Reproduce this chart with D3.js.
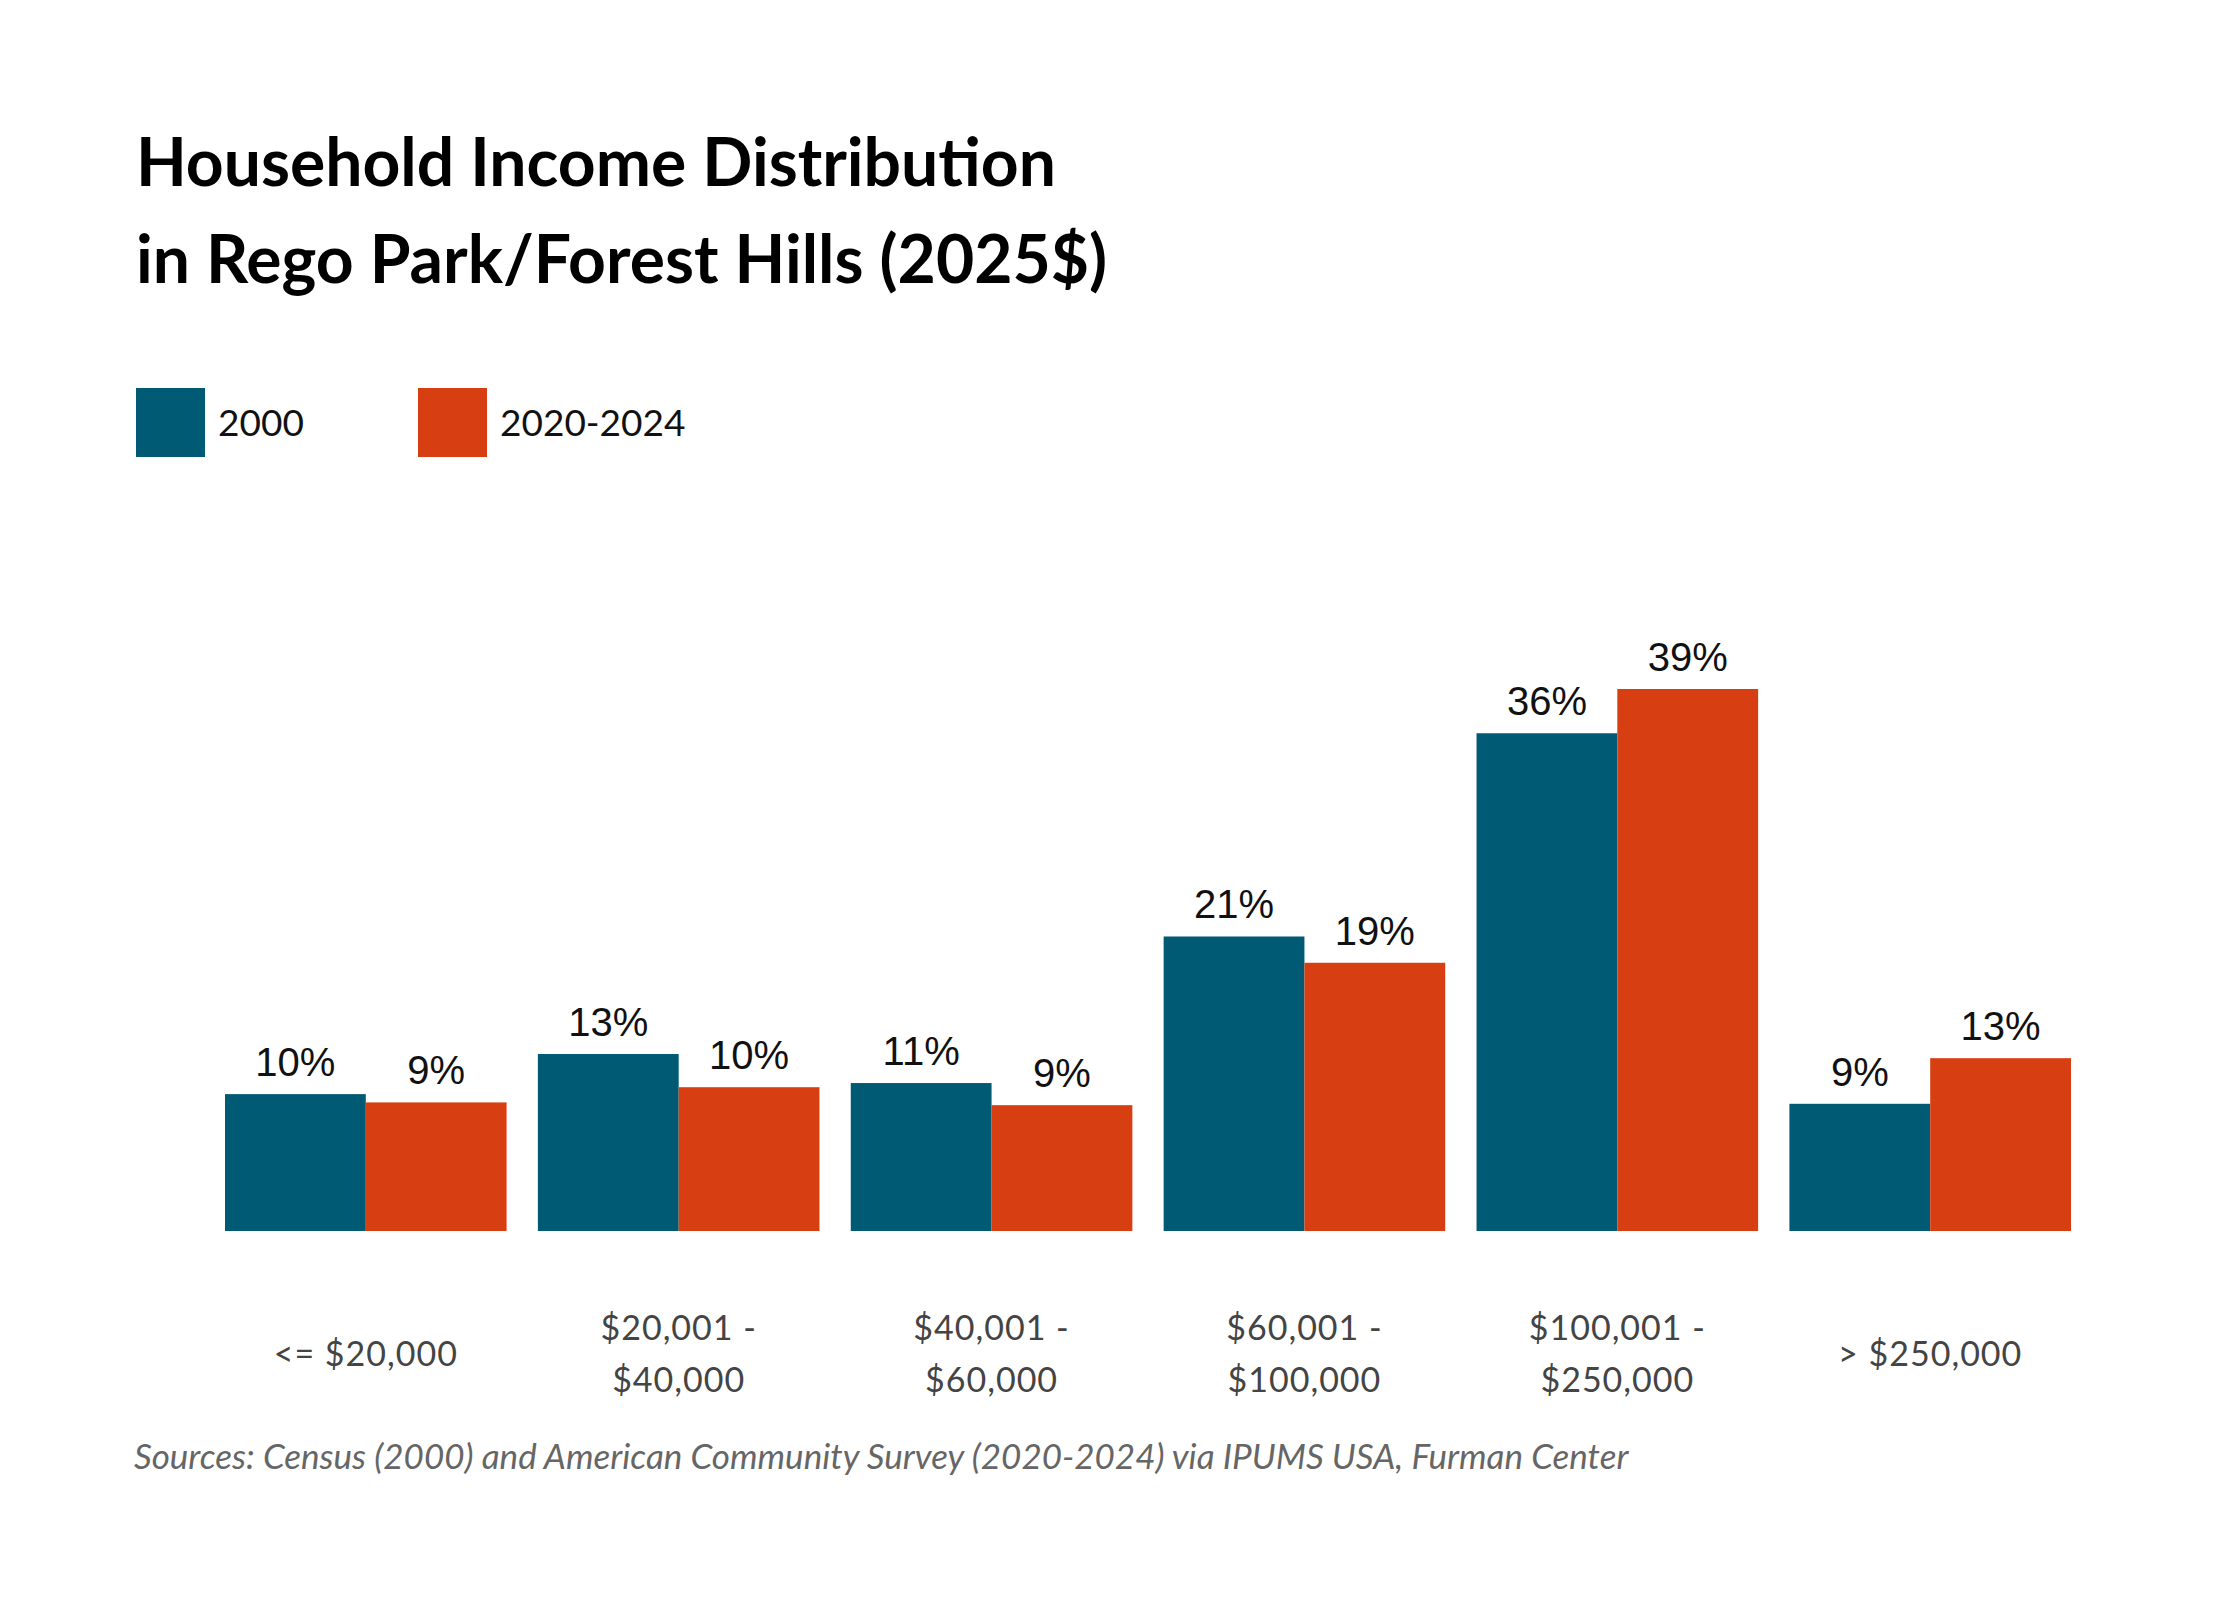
<!DOCTYPE html>
<meta charset="utf-8">
<style>
body { margin: 0; background: #fff; }
</style>
<body>
<div id="chart"></div>
<script src="https://cdn.jsdelivr.net/npm/d3@7"></script>
<script>
var categories = [["<= $20,000"], ["$20,001 -", "$40,000"], ["$40,001 -", "$60,000"],
                  ["$60,001 -", "$100,000"], ["$100,001 -", "$250,000"], ["> $250,000"]];
var seriesNames = ["2000", "2020-2024"];
var values2000 = [9.9, 12.8, 10.7, 21.3, 36.0, 9.2];
var values2024 = [9.3, 10.4, 9.1, 19.4, 39.2, 12.5];
var labels2000 = ["10%", "13%", "11%", "21%", "36%", "9%"];
var labels2024 = ["9%", "10%", "9%", "19%", "39%", "13%"];
var colors = ["#005a74", "#d73f12"];

var W = 2240, H = 1600;
var svg = d3.select("#chart").append("svg").attr("width", W).attr("height", H);

svg.append("text").attr("x", 136).attr("y", 186)
  .style("font", "bold 66px Lato").text("Household Income Distribution");
svg.append("text").attr("x", 136).attr("y", 283)
  .style("font", "bold 66px Lato").text("in Rego Park/Forest Hills (2025$)");

// legend
var legendX = [136, 418];
seriesNames.forEach(function(s, i){
  svg.append("rect").attr("x", legendX[i]).attr("y", 388).attr("width", 69).attr("height", 69).attr("fill", colors[i]);
  svg.append("text").attr("x", legendX[i] + 82).attr("y", 436)
    .style("font", "37px Lato").attr("fill", "#111").text(s);
});

var x = d3.scaleBand().domain(d3.range(categories.length)).range([225, 2071]).paddingInner(0.1);
var xs = d3.scaleBand().domain([0, 1]).range([0, x.bandwidth()]);
var y = d3.scaleLinear().domain([0, 39.2]).range([1231, 689]);

var rows = categories.map(function(c, i){
  return [{v: values2000[i], l: labels2000[i]}, {v: values2024[i], l: labels2024[i]}];
});

var g = svg.selectAll(".grp").data(rows).enter().append("g")
  .attr("transform", function(d, i){ return "translate(" + x(i) + ",0)"; });

g.selectAll("rect").data(function(d){ return d; }).enter().append("rect")
  .attr("x", function(d, j){ return xs(j); })
  .attr("y", function(d){ return y(d.v); })
  .attr("width", xs.bandwidth())
  .attr("height", function(d){ return y(0) - y(d.v); })
  .attr("fill", function(d, j){ return colors[j]; });

g.selectAll(".val").data(function(d){ return d; }).enter().append("text")
  .attr("x", function(d, j){ return xs(j) + xs.bandwidth() / 2; })
  .attr("y", function(d){ return y(d.v) - 18; })
  .attr("text-anchor", "middle")
  .style("font", "40px 'Liberation Sans'").attr("fill", "#111")
  .text(function(d){ return d.l; });

// category labels
categories.forEach(function(c, i){
  var t = svg.append("text").attr("text-anchor", "middle")
    .style("font", "34px Lato").style("letter-spacing", "1px").attr("fill", "#444");
  var cx = x(i) + x.bandwidth() / 2;
  if (c.length === 1) {
    t.append("tspan").attr("x", cx).attr("y", 1366).text(c[0]);
  } else {
    t.append("tspan").attr("x", cx).attr("y", 1340).text(c[0]);
    t.append("tspan").attr("x", cx).attr("y", 1392).text(c[1]);
  }
});

svg.append("text").attr("x", 134).attr("y", 1469)
  .style("font", "italic 35px Lato").attr("fill", "#666")
  .text("Sources: Census (2000) and American Community Survey (2020-2024) via IPUMS USA, Furman Center");
</script>
</body>
